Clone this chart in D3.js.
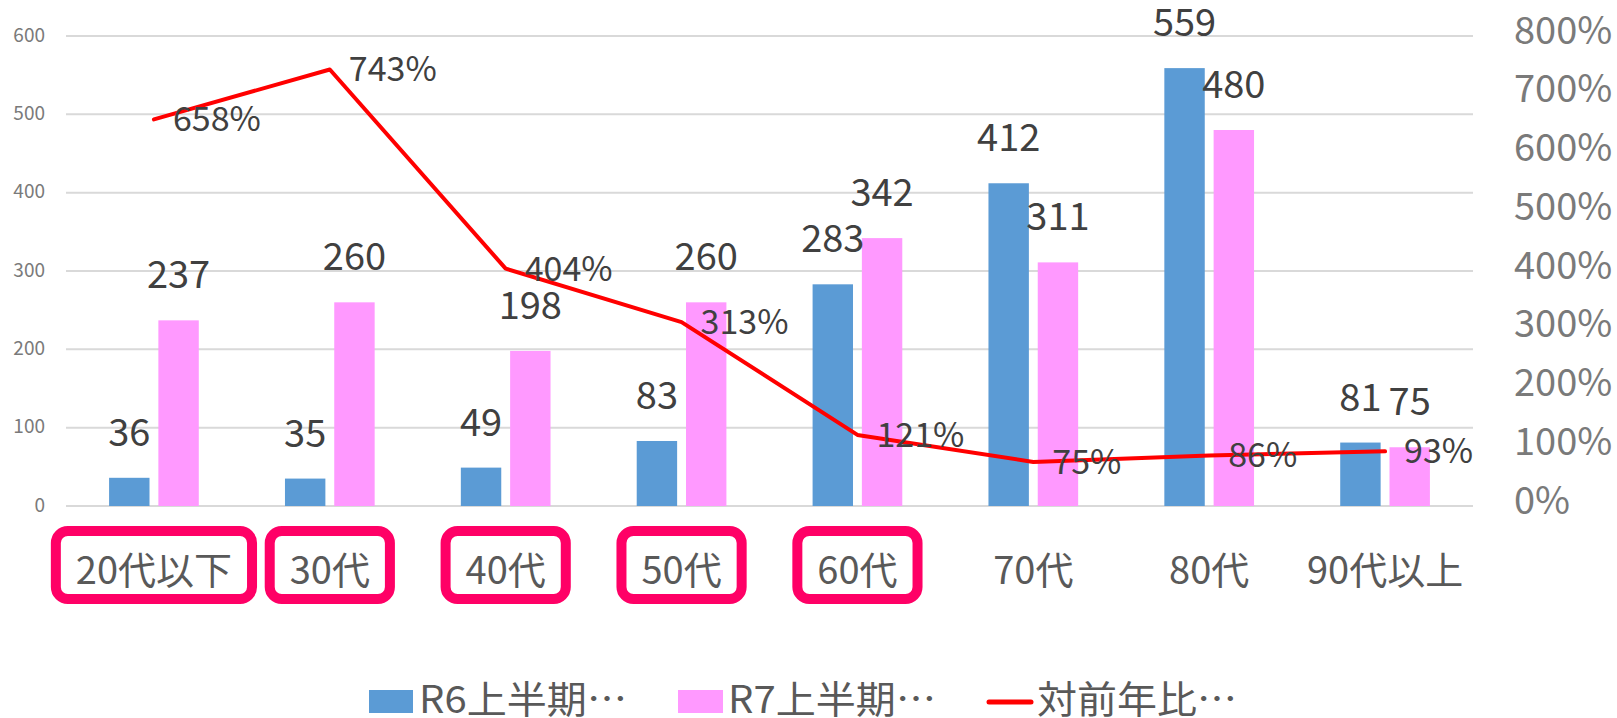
<!DOCTYPE html>
<html><head><meta charset="utf-8">
<script src="https://cdn.jsdelivr.net/npm/d3@7"></script>
<style>
html,body{margin:0;padding:0;background:#fff;}
svg{display:block;font-family:"Noto Sans CJK JP","Noto Sans",sans-serif;}
</style></head>
<body>
<svg id="chart" width="1617" height="718"></svg>
<script>
const categories = ["20代以下","30代","40代","50代","60代","70代","80代","90代以上"];
const seriesNames = ["R6上半期…","R7上半期…","対前年比…"];
const r6Values = [36,35,49,83,283,412,559,81];
const r7Values = [237,260,198,260,342,311,480,75];
const ratioValues = [6.58,7.43,4.04,3.13,1.21,0.75,0.86,0.93];
const ratioLabels = ["658%","743%","404%","313%","121%","75%","86%","93%"];
const leftTicks = [0,100,200,300,400,500,600];
const rightTicks = [0,1,2,3,4,5,6,7,8];
const highlighted = ["20代以下","30代","40代","50代","60代"];

const FONT = '"Noto Sans CJK JP","Noto Sans",sans-serif';
const svg = d3.select("#chart");
const plotL = 66, plotR = 1473, plotT = 36, plotB = 506;

const x = d3.scaleBand().domain(categories).range([plotL, plotR]).paddingInner(0.49).paddingOuter(0.245);
const x1 = d3.scaleBand().domain(["R6","R7"]).range([0, x.bandwidth()]).paddingInner(0.18);
const y = d3.scaleLinear().domain([0,600]).range([plotB, plotT]);
const y2 = d3.scaleLinear().domain([0,8]).range([plotB, plotT]);

// gridlines
svg.append("g").selectAll("line").data(leftTicks).join("line")
  .attr("x1", plotL).attr("x2", plotR)
  .attr("y1", d => y(d)).attr("y2", d => y(d))
  .attr("stroke", "#d9d9d9").attr("stroke-width", 2);

// left axis
const leftAxis = d3.axisLeft(y).tickValues(leftTicks).tickSize(0).tickPadding(0);
const gl = svg.append("g").attr("transform", `translate(45,-1)`).call(leftAxis);
gl.select(".domain").remove();
gl.selectAll("text").attr("font-size", 19).attr("fill", "#7a7a7a").attr("font-family", FONT);

// right axis
const rightAxis = d3.axisRight(y2).tickValues(rightTicks).tickSize(0).tickPadding(0)
  .tickFormat(d => (d*100) + "%");
const gr = svg.append("g").attr("transform", `translate(1514,-5)`).call(rightAxis);
gr.select(".domain").remove();
gr.selectAll("text").attr("font-size", 38).attr("fill", "#7a7a7a").attr("font-family", FONT);

// bars
const groups = svg.append("g").selectAll("g").data(categories).join("g")
  .attr("transform", d => `translate(${x(d)},0)`);
groups.append("rect")
  .attr("x", x1("R6")).attr("width", x1.bandwidth())
  .attr("y", (d,i) => y(r6Values[i])).attr("height", (d,i) => plotB - y(r6Values[i]))
  .attr("fill", "#5b9bd5");
groups.append("rect")
  .attr("x", x1("R7")).attr("width", x1.bandwidth())
  .attr("y", (d,i) => y(r7Values[i])).attr("height", (d,i) => plotB - y(r7Values[i]))
  .attr("fill", "#ff99ff");

// bar labels
groups.append("text")
  .attr("x", x1("R6") + x1.bandwidth()/2).attr("y", (d,i) => y(r6Values[i]) - 32)
  .attr("text-anchor", "middle").attr("font-size", 38).attr("fill", "#404040")
  .text((d,i) => r6Values[i]);
groups.append("text")
  .attr("x", x1("R7") + x1.bandwidth()/2).attr("y", (d,i) => y(r7Values[i]) - 32)
  .attr("text-anchor", "middle").attr("font-size", 38).attr("fill", "#404040")
  .text((d,i) => r7Values[i]);

// line
const cx = d => x(d) + x.bandwidth()/2;
const line = d3.line().x((d,i) => cx(categories[i])).y(d => y2(d));
svg.append("path").datum(ratioValues).attr("d", line)
  .attr("fill", "none").attr("stroke", "#ff0000").attr("stroke-width", 4)
  .attr("stroke-linecap", "round").attr("stroke-linejoin", "round");
svg.append("g").selectAll("text").data(ratioValues).join("text")
  .attr("x", (d,i) => cx(categories[i]) + 19).attr("y", d => y2(d) + 12)
  .attr("font-size", 34).attr("fill", "#404040")
  .text((d,i) => ratioLabels[i]);

// category labels
const catG = svg.append("g");
const catText = catG.selectAll("text").data(categories).join("text")
  .attr("x", d => cx(d)).attr("y", 584)
  .attr("text-anchor", "middle").attr("font-size", 38).attr("fill", "#595959")
  .text(d => d);

// highlight boxes
catText.each(function(d){
  if (!highlighted.includes(d)) return;
  const bb = this.getBBox();
  const w = bb.width + 40;
  catG.append("rect")
    .attr("x", cx(d) - w/2).attr("width", w)
    .attr("y", 531).attr("height", 68)
    .attr("rx", 12).attr("ry", 12)
    .attr("fill", "none").attr("stroke", "#ff0066").attr("stroke-width", 10);
});

// legend
const leg = svg.append("g");
function legText(tx, ty, target, s){
  const t = leg.append("text").attr("font-size", 38).attr("fill", "#595959").text(s);
  const w = t.node().getComputedTextLength();
  t.attr("transform", `translate(${tx},${ty}) scale(${target / w},1)`);
}
leg.append("rect").attr("x", 369).attr("y", 690).attr("width", 44).attr("height", 23).attr("fill", "#5b9bd5");
legText(419, 713, 208, seriesNames[0]);
leg.append("rect").attr("x", 678).attr("y", 690).attr("width", 45).attr("height", 23).attr("fill", "#ff99ff");
legText(728, 713, 208, seriesNames[1]);
leg.append("line").attr("x1", 989).attr("x2", 1031).attr("y1", 702).attr("y2", 702)
  .attr("stroke", "#ff0000").attr("stroke-width", 5).attr("stroke-linecap", "round");
legText(1037, 713, 200, seriesNames[2]);
</script>
</body></html>
